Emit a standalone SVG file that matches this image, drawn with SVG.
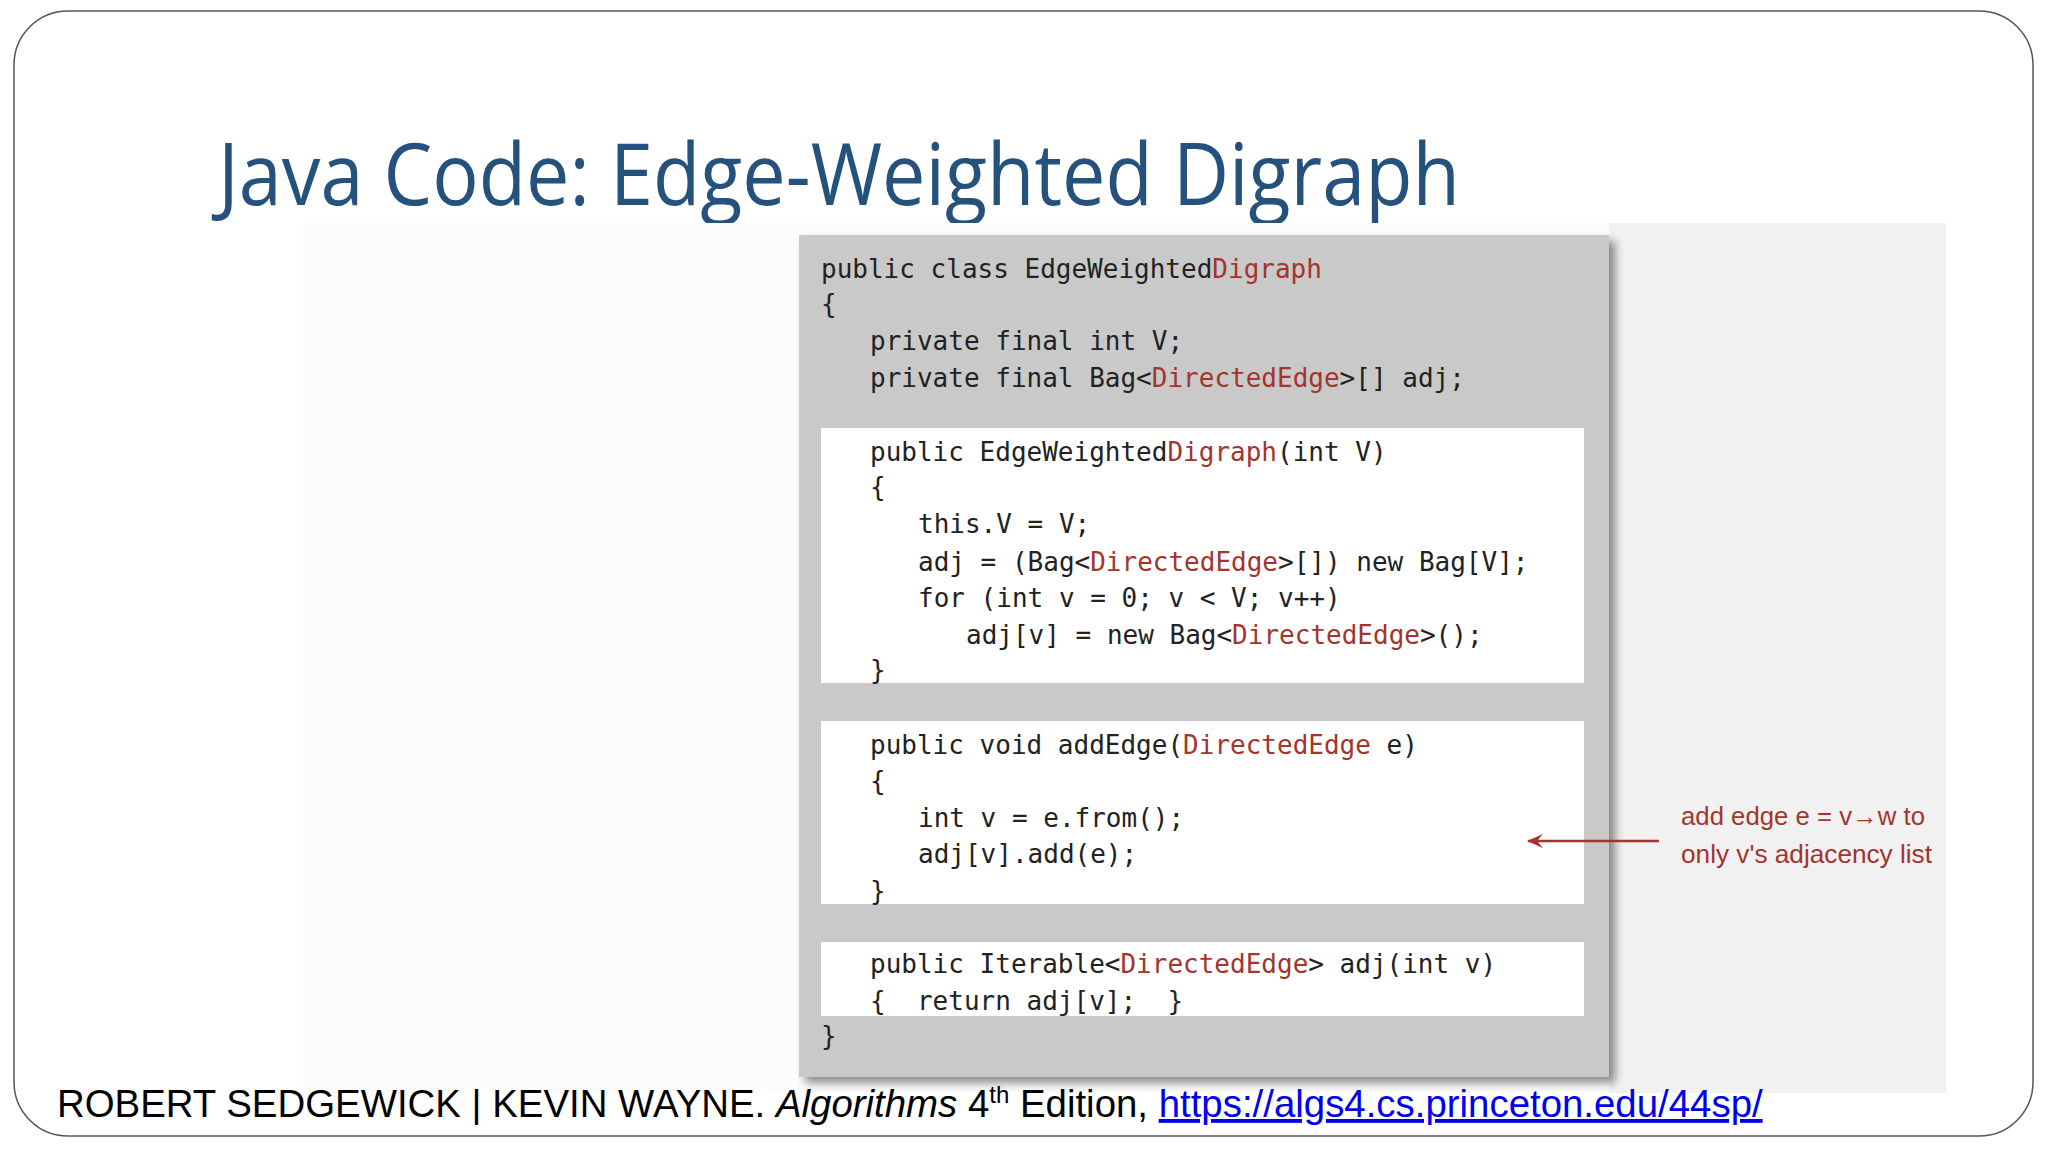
<svg xmlns="http://www.w3.org/2000/svg" width="2048" height="1152" viewBox="0 0 2048 1152">
<style>
.c{font-family:"DejaVu Sans Mono","Liberation Mono",monospace;font-size:26px;fill:#222}
.r{fill:#a3352c}
.p{fill:#fff}
.n{font-family:"Liberation Sans Narrow","Liberation Sans",sans-serif;font-size:25px;fill:#a3352c}
</style>
<defs>
<filter id="sh" x="-5%" y="-5%" width="115%" height="115%"><feGaussianBlur in="SourceAlpha" stdDeviation="5"/><feOffset dx="6" dy="6"/><feComponentTransfer><feFuncA type="linear" slope="0.45"/></feComponentTransfer><feMerge><feMergeNode/><feMergeNode in="SourceGraphic"/></feMerge></filter>
<marker id="ah" markerWidth="16" markerHeight="14" refX="15" refY="7" orient="auto" markerUnits="userSpaceOnUse"><path d="M0,0 L16,7 L0,14 L6,7 Z" fill="#a3352c"/></marker>
</defs>
<rect width="2048" height="1152" fill="#fff"/>
<rect x="14" y="11" width="2019" height="1125" rx="54" fill="none" stroke="#555" stroke-width="1.5"/>
<text x="218" y="205" font-family="Open Sans,Liberation Sans,sans-serif" font-size="86" fill="#24527d" textLength="1242" lengthAdjust="spacingAndGlyphs">Java Code: Edge-Weighted Digraph</text>
<rect x="303" y="223" width="1643" height="870" fill="#fcfcfc"/>
<rect x="1609" y="223" width="337" height="870" fill="#f1f1f1"/>
<g id="code">
<rect x="799" y="235" width="810" height="842" fill="#c9c9c9" filter="url(#sh)"/>
<rect class="p" x="821" y="428" width="763" height="255"/>
<rect class="p" x="821" y="721" width="763" height="183"/>
<rect class="p" x="821" y="942" width="763" height="74"/>
<text class="c" x="821" y="278">public class EdgeWeighted<tspan class="r">Digraph</tspan></text>
<text class="c" x="821" y="313">{</text>
<text class="c" x="870" y="350">private final int V;</text>
<text class="c" x="870" y="387">private final Bag&lt;<tspan class="r">DirectedEdge</tspan>&gt;[] adj;</text>
<text class="c" x="870" y="461">public EdgeWeighted<tspan class="r">Digraph</tspan>(int V)</text>
<text class="c" x="870" y="496">{</text>
<text class="c" x="918" y="533">this.V = V;</text>
<text class="c" x="918" y="571">adj = (Bag&lt;<tspan class="r">DirectedEdge</tspan>&gt;[]) new Bag[V];</text>
<text class="c" x="918" y="607">for (int v = 0; v &lt; V; v++)</text>
<text class="c" x="966" y="644">adj[v] = new Bag&lt;<tspan class="r">DirectedEdge</tspan>&gt;();</text>
<text class="c" x="870" y="679">}</text>
<text class="c" x="870" y="754">public void addEdge(<tspan class="r">DirectedEdge</tspan> e)</text>
<text class="c" x="870" y="790">{</text>
<text class="c" x="918" y="827">int v = e.from();</text>
<text class="c" x="918" y="863">adj[v].add(e);</text>
<text class="c" x="870" y="900">}</text>
<text class="c" x="870" y="973">public Iterable&lt;<tspan class="r">DirectedEdge</tspan>&gt; adj(int v)</text>
<text class="c" x="870" y="1010" xml:space="preserve">{  return adj[v];  }</text>
<text class="c" x="821" y="1045">}</text>
</g>
<g id="note">
<text class="n" x="1681" y="825" textLength="244" lengthAdjust="spacingAndGlyphs">add edge e = v→w to</text>
<text class="n" x="1681" y="863" textLength="251" lengthAdjust="spacingAndGlyphs">only v's adjacency list</text>
</g>
<g id="connectors">
<line x1="1659" y1="841" x2="1528" y2="841" stroke="#a3352c" stroke-width="2.5" marker-end="url(#ah)"/>
</g>
<text x="57" y="1117" font-family="Liberation Sans,Arial,sans-serif" font-size="38.4" fill="#000">ROBERT SEDGEWICK | KEVIN WAYNE. <tspan font-style="italic">Algorithms</tspan> 4<tspan font-size="24" dy="-14">th</tspan><tspan dy="14"> Edition, </tspan><tspan fill="#0000ee" text-decoration="underline">https://algs4.cs.princeton.edu/44sp/</tspan></text>
</svg>
